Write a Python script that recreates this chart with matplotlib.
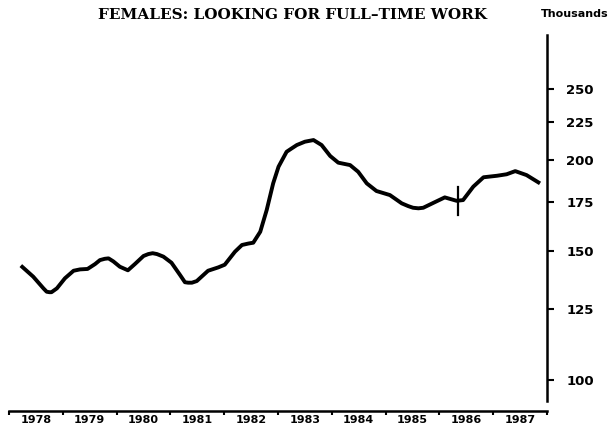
import numpy as np
import matplotlib
matplotlib.use("Agg")
from matplotlib import pyplot as plt
from matplotlib.ticker import FixedLocator, NullLocator, FixedFormatter, NullFormatter

# readings (year, thousands)
years = [1978.22, 1978.45, 1978.64, 1978.70, 1978.75, 1978.79, 1978.89, 1979.04,
         1979.20, 1979.32, 1979.46, 1979.60, 1979.69, 1979.78, 1979.85, 1979.94,
         1980.06, 1980.21, 1980.34, 1980.50, 1980.59, 1980.67, 1980.75, 1980.87,
         1981.02, 1981.18, 1981.27, 1981.33, 1981.40, 1981.49, 1981.70, 1981.89,
         1982.01, 1982.20, 1982.33, 1982.45, 1982.54, 1982.67, 1982.79, 1982.91,
         1983.01, 1983.16, 1983.25, 1983.35, 1983.50, 1983.66, 1983.81, 1983.97,
         1984.12, 1984.34, 1984.49, 1984.65, 1984.83, 1985.08, 1985.30, 1985.42,
         1985.51, 1985.61, 1985.70, 1985.89, 1986.10, 1986.32, 1986.44, 1986.63,
         1986.82, 1987.07, 1987.25, 1987.41, 1987.62, 1987.87]
females = [143.3, 138.4, 133.4, 132.0, 131.8, 131.8, 133.4, 137.7,
           141.0, 141.6, 141.8, 144.0, 145.8, 146.4, 146.6, 145.2,
           142.8, 141.2, 144.0, 147.7, 148.6, 149.0, 148.6, 147.4,
           144.6, 139.1, 136.0, 135.8, 135.8, 136.5, 141.0, 142.5,
           143.7, 149.7, 152.9, 153.6, 154.0, 159.4, 170.7, 185.6,
           195.6, 205.0, 207.1, 209.4, 211.6, 212.7, 209.4, 202.3,
           198.1, 196.6, 192.5, 185.6, 181.2, 178.9, 174.3, 172.8,
           171.9, 171.6, 171.9, 174.6, 177.6, 175.7, 176.1, 183.7,
           189.2, 190.1, 191.0, 192.9, 190.5, 185.6]

# series break mark
break_year = 1986.34
break_range = (168.0, 183.7)

year_ticks = list(range(1978, 1989))
year_labels = [str(y) for y in range(1978, 1988)]
y_ticks = [100, 125, 150, 175, 200, 225, 250]

fig = plt.figure(figsize=(6.13, 4.32), dpi=100)
ax = fig.add_axes([9 / 613, 1 - 411 / 432, 538 / 613, 376 / 432])

ax.plot(years, females, color='black', lw=2.8, solid_capstyle='butt',
        solid_joinstyle='round')
ax.plot([break_year, break_year], break_range, color='black', lw=1.6)

ax.set_yscale('log')
ax.set_xlim(1978, 1988)
ax.set_ylim(90.7, 296)

ax.spines['top'].set_visible(False)
ax.spines['left'].set_visible(False)
ax.spines['right'].set_bounds(93.6, 296)
ax.spines['right'].set_linewidth(1.8)
ax.spines['bottom'].set_linewidth(1.8)

ax.yaxis.set_major_locator(FixedLocator(y_ticks))
ax.yaxis.set_major_formatter(FixedFormatter([str(v) for v in y_ticks]))
ax.yaxis.set_minor_locator(NullLocator())
ax.yaxis.set_minor_formatter(NullFormatter())
ax.yaxis.tick_right()
ax.tick_params(axis='y', which='major', direction='out', length=5, width=1.5,
               pad=9, labelsize=9.5)
for lab in ax.get_yticklabels():
    lab.set_fontweight('bold')

ax.xaxis.set_major_locator(FixedLocator(year_ticks))
ax.xaxis.set_major_formatter(NullFormatter())
ax.xaxis.set_minor_locator(FixedLocator([y + 0.5 for y in range(1978, 1988)]))
ax.xaxis.set_minor_formatter(FixedFormatter(year_labels))
ax.tick_params(axis='x', which='major', direction='out', length=3, width=1.5)
ax.tick_params(axis='x', which='minor', length=0, pad=3, labelsize=8)
for lab in ax.get_xticklabels(minor=True):
    lab.set_fontweight('bold')

fig.text(292 / 613, 1 - 15 / 432, 'FEMALES: LOOKING FOR FULL\u2013TIME WORK',
         ha='center', va='center', fontsize=11, fontweight='bold',
         family='DejaVu Serif')
fig.text(575 / 613, 1 - 14 / 432, 'Thousands', ha='center', va='center',
         fontsize=8, fontweight='bold')

fig.savefig('out.png', dpi=100)
